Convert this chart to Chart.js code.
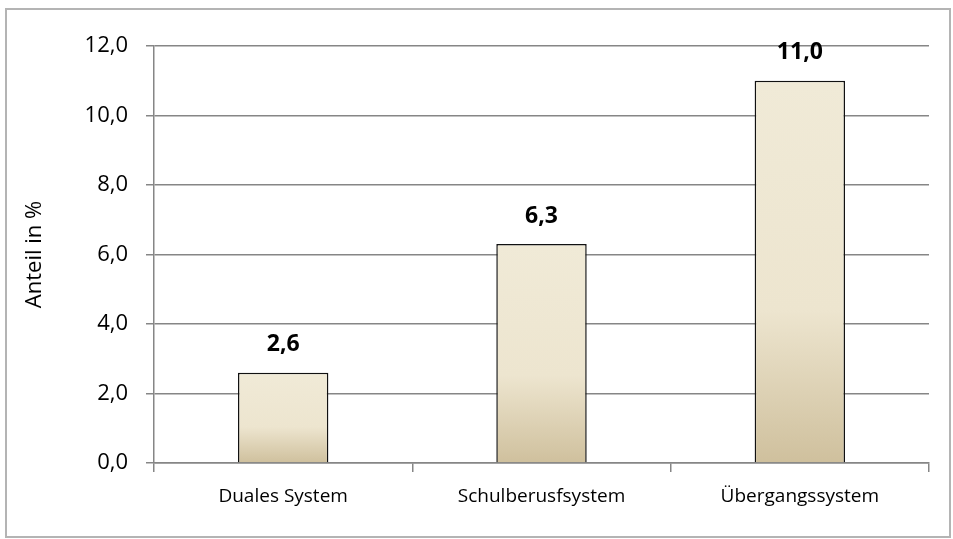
<!DOCTYPE html>
<html>
<head>
<meta charset="utf-8">
<script src="https://cdn.jsdelivr.net/npm/chart.js@4"></script>
<style>
  html, body { margin: 0; padding: 0; background: #fff; }
  #frame {
    position: absolute; left: 5px; top: 8px;
    width: 942px; height: 526px;
    border: 2px solid #b4b4b4;
  }
  #frame canvas { display: block; }
</style>
</head>
<body>
<div id="frame"><canvas id="chart" width="942" height="526"></canvas></div>
<script>
// categories and values
const categories = ['Duales System', 'Schulberusfsystem', 'Übergangssystem'];
const shares = [2.6, 6.3, 11.0];
const yTicks = [0, 2, 4, 6, 8, 10, 12];

const FONT = '"Open Sans", Lato, sans-serif';

function fmt(v) {
    return v.toFixed(1).replace('.', ',');
}

// gradient for each bar: flat cream on top, tan towards the bottom
function barFill(ctx) {
    const chart = ctx.chart;
    const area = chart.chartArea;
    if (!area || ctx.type !== 'data') return '#efe8d4';
    const y = chart.scales.y;
    const top = y.getPixelForValue(ctx.raw);
    const bottom = y.getPixelForValue(0);
    const g = chart.ctx.createLinearGradient(0, top, 0, bottom);
    g.addColorStop(0, '#f0ead7');
    g.addColorStop(0.6, '#ede5cf');
    g.addColorStop(1, '#cfc09d');
    return g;
}

// bold value labels above the bars
const valueLabels = {
    id: 'valueLabels',
    afterDatasetsDraw(chart) {
        const c = chart.ctx;
        const meta = chart.getDatasetMeta(0);
        c.save();
        c.font = 'bold 23px ' + FONT;
        c.fillStyle = '#000';
        c.textAlign = 'center';
        c.textBaseline = 'middle';
        meta.data.forEach((bar, i) => {
            c.fillText(fmt(shares[i]), bar.x, bar.y - 28);
        });
        c.restore();
    }
};

new Chart(document.getElementById('chart'), {
    type: 'bar',
    data: {
        labels: categories,
        datasets: [{
            data: shares,
            backgroundColor: barFill,
            borderColor: '#111',
            borderWidth: 1.5,
            categoryPercentage: 1,
            barPercentage: 0.35
        }]
    },
    options: {
        responsive: false,
        animation: false,
        layout: { padding: { top: 36, right: 20, bottom: 18, left: 7 } },
        plugins: {
            legend: { display: false },
            tooltip: { enabled: false }
        },
        scales: {
            x: {
                afterFit(axis) { axis.height = 55; },
                grid: {
                    offset: true,
                    drawOnChartArea: false,
                    color: '#868686',
                    lineWidth: 1.5,
                    tickLength: 9
                },
                border: { color: '#868686', width: 1.5 },
                ticks: {
                    color: '#000',
                    padding: 13,
                    font: { family: FONT, size: 19 }
                }
            },
            y: {
                min: 0,
                max: 12,
                afterBuildTicks(axis) {
                    axis.ticks = yTicks.map(v => ({ value: v }));
                },
                afterFit(axis) { axis.width = 140; },
                grid: {
                    color: '#868686',
                    lineWidth: 1.5,
                    tickLength: 8
                },
                border: { color: '#868686', width: 1.5 },
                ticks: {
                    color: '#000',
                    padding: 18,
                    font: { family: FONT, size: 22 },
                    callback: v => fmt(v)
                },
                title: {
                    display: true,
                    text: 'Anteil in %',
                    color: '#000',
                    padding: { top: 8, bottom: 0 },
                    font: { family: FONT, size: 22 }
                }
            }
        }
    },
    plugins: [valueLabels]
});
</script>
</body>
</html>
